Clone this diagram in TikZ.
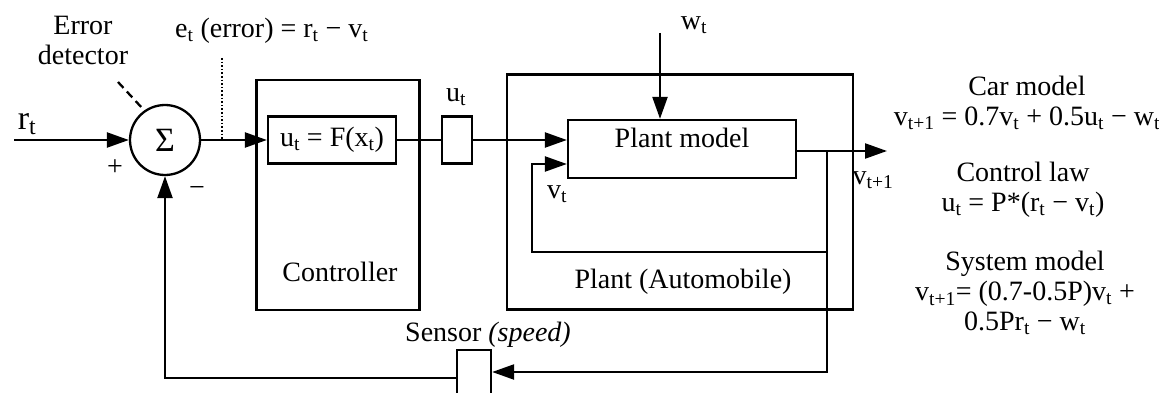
\documentclass[tikz,border=0pt]{standalone}
\usepackage{fontspec}
\setmainfont{Liberation Serif}
\usetikzlibrary{positioning,arrows.meta}
\newcommand{\sbt}[1]{\textsubscript{#1}}

\begin{document}
\begin{tikzpicture}[x=1pt,y=-1pt,>={Triangle[length=22pt,width=15pt]},line width=2.3pt,
  font=\fontsize{28}{30}\selectfont,
  box/.style={draw,inner sep=0pt},
  txt/.style={inner sep=0pt,align=center}]
  \useasboundingbox (0,0) rectangle (1159,393);
  \clip (0,0) rectangle (1159,393);
  \node (sum) [box,circle,minimum size=70pt,font=\fontsize{34}{36}\selectfont] at (165,140) {Σ};
  \node (ctrl) [box,minimum width=163pt,minimum height=230pt] at (338,195) {};
  \node (law) [box,minimum width=128pt,minimum height=47pt] at (332,140) {u\sbt{t} = F(x\sbt{t})};
  \node (hold) [box,minimum width=30pt,minimum height=47pt] at (457,140) {};
  \node (plant) [box,minimum width=346pt,minimum height=235pt] at (680,192) {};
  \node (model) [box,minimum width=228pt,minimum height=58pt] at (682,149) {};
  \node (sens) [box,minimum width=34pt,minimum height=60pt] at (474,380) {};
  \node (rt) [txt,font=\fontsize{34}{36}\selectfont] at (27,124) {r\sbt{t}};
  \node (plus) [txt] at (115,168) {+};
  \node (minus) [txt] at (197,192) {−};
  \node (det) [txt] at (83,40) {Error\\detector};
  \node (err) [txt,anchor=west] at (174,31) {e\sbt{t} (error) = r\sbt{t} − v\sbt{t}};
  \node (ut) [txt] at (456,97) {u\sbt{t}};
  \node (wt) [txt] at (694,25) {w\sbt{t}};
  \node (mname) [txt] at (682,138) {Plant model};
  \node (vt) [txt] at (557,194) {v\sbt{t}};
  \node (vnext) [txt] at (873,180) {v\sbt{t+1}};
  \node (cname) [txt] at (340,272) {Controller};
  \node (pname) [txt] at (683,282) {Plant (Automobile)};
  \node (sname) [txt] at (488,335) {Sensor \textit{(speed)}};
  \node (car) [txt] at (1027,103) {Car model\\v\sbt{t+1} = 0.7v\sbt{t} + 0.5u\sbt{t} − w\sbt{t}};
  \node (claw) [txt] at (1023,190) {Control law\\u\sbt{t} = P*(r\sbt{t} − v\sbt{t})};
  \node (sys) [txt] at (1025,293) {System model\\v\sbt{t+1}= (0.7-0.5P)v\sbt{t} +\\0.5Pr\sbt{t} − w\sbt{t}};
  \coordinate (rin) at (14,140);
  \coordinate (dtail) at (118,82);
  \coordinate (etop) at (222,58);
  \coordinate (ebot) at (222,140);
  \coordinate (wtop) at (660,33);
  \coordinate (yout) at (887,151);
  \coordinate (br) at (827,151);
  \coordinate (loop) at (532,252);
  \coordinate (fb) at (827,372);
  \draw[->] (rin) -- (sum.west);
  \draw[dash pattern=on 8pt off 5pt] (dtail) -- (sum.125);
  \draw[dotted,line width=1.6pt] (etop) -- (ebot);
  \draw[->] (sum.east) -- (law.west);
  \draw (law.east) -- (hold.west);
  \draw[->] (hold.east) -- (hold.east -| model.west);
  \draw[->] (wtop) -- (wtop |- model.north);
  \draw[->] ([yshift=-2pt]model.east) -- (yout);
  \draw[->] (br) |- (loop) |- ([yshift=-15pt]model.west);
  \draw[->] (br) -- (fb) -- (fb -| sens.east);
  \draw[->] ([yshift=2pt]sens.west) -| (sum.south);
\end{tikzpicture}
\end{document}
